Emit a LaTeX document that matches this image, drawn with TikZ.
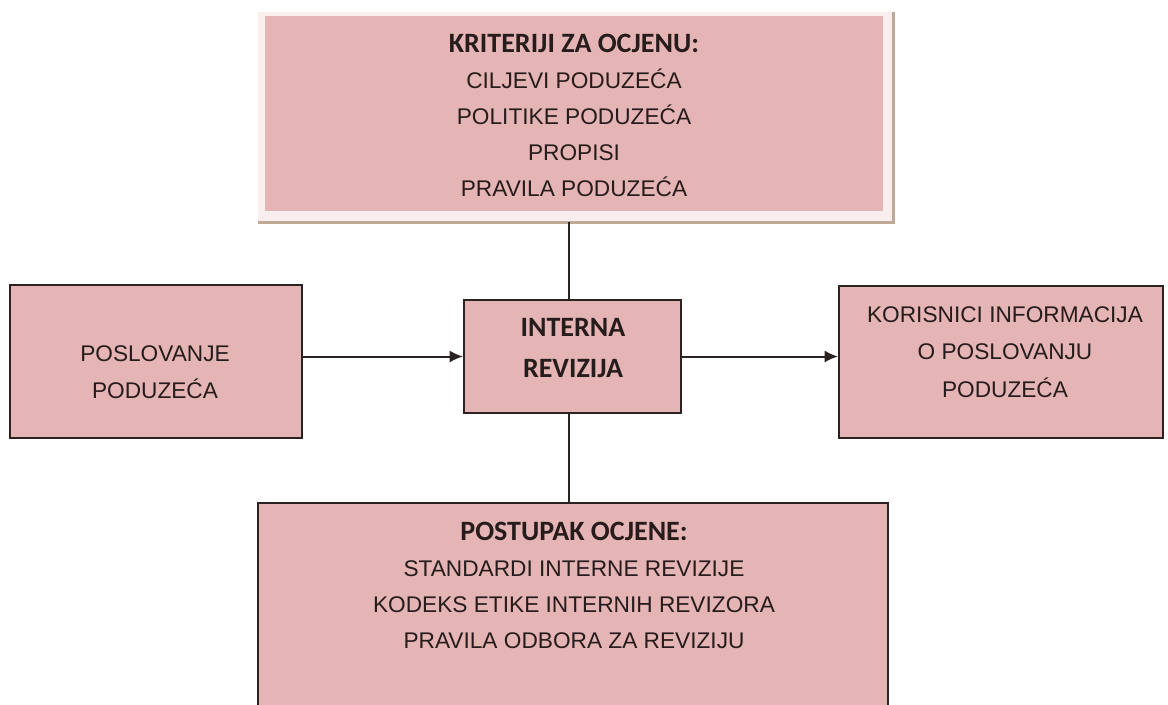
\documentclass[tikz,border=0pt]{standalone}
\usepackage{fontspec}
\setmainfont{Liberation Sans}
\newfontfamily\carlito{Carlito}
\usepackage{xcolor}
\usetikzlibrary{arrows.meta}
\definecolor{roza}{RGB}{229,180,181}
\definecolor{rub}{RGB}{43,34,34}
\definecolor{slova}{RGB}{38,28,28}
\definecolor{sjena}{RGB}{190,168,150}
\definecolor{svijetla}{RGB}{248,238,238}
\begin{document}
\begin{tikzpicture}[x=0.75pt,y=-0.75pt]
% Stilovi
\tikzstyle{strelica}=[-{Latex[length=10pt,width=9pt]},line width=1.5pt,draw=rub]
\tikzstyle{veza}=[line width=1.5pt,draw=rub]
\tikzstyle{kutija}=[rectangle,draw=rub,line width=1.5pt,fill=roza,inner sep=0pt]
\tikzstyle{tekst}=[align=center,text=slova,inner sep=0pt,font=\fontsize{17}{27}\selectfont]
% Dimenzije
\def\pix{0.75pt}
\def\Naslov{\carlito\bfseries\fontsize{21}{27}\selectfont}
% Okvir
\useasboundingbox (0,0) rectangle (1168,704);
\clip (0,0) rectangle (1168,704);
\fill[white] (0,0) rectangle (1168,704);
% Kutije
\node[fill=svijetla,inner sep=0pt,minimum width=635*\pix,minimum height=210*\pix] (Ko) at (575.5,117) {};
\draw[sjena,line width=2.5*\pix] (Ko.south west) -- (Ko.south east) -- (Ko.north east);
\node[fill=roza,inner sep=0pt,minimum width=618*\pix,minimum height=195*\pix] (K) at (574,113.5) {};
\node[kutija,minimum width=292*\pix,minimum height=153*\pix] (P) at (156,361.5) {};
\node[kutija,minimum width=217*\pix,minimum height=113*\pix] (IR) at (572.5,356.5) {};
\node[kutija,minimum width=324*\pix,minimum height=152*\pix] (KI) at (1001,362) {};
\node[kutija,minimum width=630*\pix,minimum height=237*\pix] (PO) at (573,621.5) {};
% Tekstovi
\node[tekst] (tK) at (574,115) {{\Naslov KRITERIJI ZA OCJENU:}\\CILJEVI PODUZEĆA\\POLITIKE PODUZEĆA\\PROPISI\\PRAVILA PODUZEĆA};
\node[tekst,font=\fontsize{17}{28}\selectfont] (tP) at (155,372) {POSLOVANJE\\PODUZEĆA};
\node[tekst,font=\Naslov\fontsize{21}{31}\selectfont] (tIR) at (573,348) {INTERNA\\REVIZIJA};
\node[tekst,font=\fontsize{17}{28}\selectfont] (tKI) at (1005,352) {KORISNICI INFORMACIJA\\O POSLOVANJU\\PODUZEĆA};
\node[tekst] (tPO) at (574,585) {{\Naslov POSTUPAK OCJENE:}\\STANDARDI INTERNE REVIZIJE\\KODEKS ETIKE INTERNIH REVIZORA\\PRAVILA ODBORA ZA REVIZIJU};
% Veze
\coordinate (g) at ([xshift=-3pt]IR.north);
\coordinate (d) at ([xshift=-3pt]IR.south);
\draw[veza] (g) -- (g |- Ko.south);
\draw[veza] (d) -- (d |- PO.north);
\draw[strelica] (P.east |- IR.west) -- (IR.west);
\draw[strelica] (IR.east) -- (IR.east -| KI.west);
\end{tikzpicture}
\end{document}
